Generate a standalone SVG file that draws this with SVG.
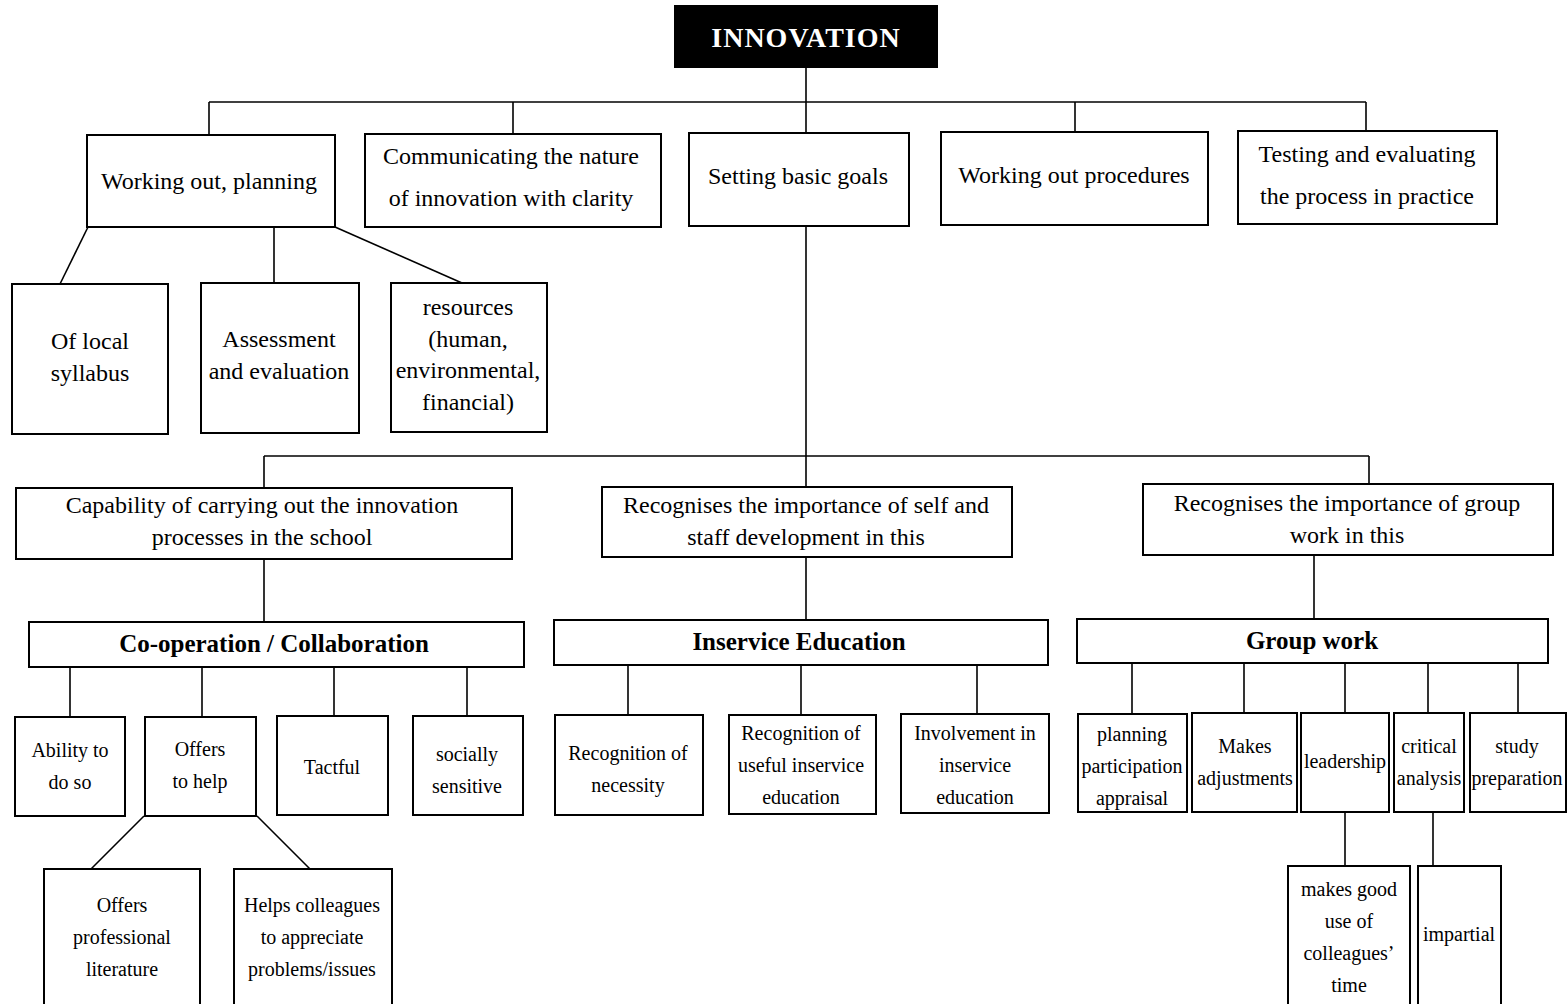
<svg xmlns="http://www.w3.org/2000/svg" width="1568" height="1004" viewBox="0 0 1568 1004">
<style>
.b{fill:#fff;stroke:#000;stroke-width:2}
.t{font-family:"Liberation Serif","Times New Roman",serif;font-size:24px;fill:#000;text-anchor:middle}
.s{font-family:"Liberation Serif","Times New Roman",serif;font-size:20px;fill:#000;text-anchor:middle}
.h{font-family:"Liberation Serif","Times New Roman",serif;font-size:25px;font-weight:bold;fill:#000;text-anchor:middle}
.c line{stroke:#000;stroke-width:1.6}
</style>
<rect width="1568" height="1004" fill="#fff"/>
<g class="c" id="connectors">
<line x1="806" y1="68" x2="806" y2="133"/>
<line x1="209" y1="102" x2="1366" y2="102"/>
<line x1="209" y1="102" x2="209" y2="135"/>
<line x1="513" y1="102" x2="513" y2="134"/>
<line x1="1075" y1="102" x2="1075" y2="132"/>
<line x1="1366" y1="102" x2="1366" y2="131"/>
<line x1="88" y1="227" x2="60" y2="284"/>
<line x1="274" y1="227" x2="274" y2="283"/>
<line x1="335" y1="227" x2="462" y2="283"/>
<line x1="806" y1="226" x2="806" y2="456"/>
<line x1="264" y1="456" x2="1369" y2="456"/>
<line x1="264" y1="456" x2="264" y2="488"/>
<line x1="806" y1="456" x2="806" y2="487"/>
<line x1="1369" y1="456" x2="1369" y2="484"/>
<line x1="264" y1="559" x2="264" y2="622"/>
<line x1="806" y1="557" x2="806" y2="620"/>
<line x1="1314" y1="555" x2="1314" y2="619"/>
<line x1="70" y1="667" x2="70" y2="717"/>
<line x1="202" y1="667" x2="202" y2="717"/>
<line x1="334" y1="667" x2="334" y2="716"/>
<line x1="467" y1="667" x2="467" y2="716"/>
<line x1="144" y1="816" x2="91" y2="869"/>
<line x1="257" y1="816" x2="310" y2="869"/>
<line x1="628" y1="665" x2="628" y2="715"/>
<line x1="801" y1="665" x2="801" y2="715"/>
<line x1="977" y1="665" x2="977" y2="714"/>
<line x1="1132" y1="663" x2="1132" y2="714"/>
<line x1="1244" y1="663" x2="1244" y2="713"/>
<line x1="1345" y1="663" x2="1345" y2="713"/>
<line x1="1428" y1="663" x2="1428" y2="713"/>
<line x1="1518" y1="663" x2="1518" y2="713"/>
<line x1="1345" y1="812" x2="1345" y2="866"/>
<line x1="1433" y1="812" x2="1433" y2="866"/>
</g>
<g id="innovation"><rect x="674" y="5" width="264" height="63" fill="#000"/><text x="806" y="47" font-family="'Liberation Serif','Times New Roman',serif" font-size="28" font-weight="bold" letter-spacing="1" fill="#fff" text-anchor="middle">INNOVATION</text></g>
<g id="working-out-planning"><rect class="b" x="87" y="135" width="248" height="92"/><text class="t" x="209" y="189">Working out, planning</text></g>
<g id="communicating"><rect class="b" x="365" y="134" width="296" height="93"/><text class="t" x="511" y="164">Communicating the nature</text><text class="t" x="511" y="206">of innovation with clarity</text></g>
<g id="setting-goals"><rect class="b" x="689" y="133" width="220" height="93"/><text class="t" x="798" y="184">Setting basic goals</text></g>
<g id="working-procedures"><rect class="b" x="941" y="132" width="267" height="93"/><text class="t" x="1074" y="183">Working out procedures</text></g>
<g id="testing"><rect class="b" x="1238" y="131" width="259" height="93"/><text class="t" x="1367" y="162">Testing and evaluating</text><text class="t" x="1367" y="204">the process in practice</text></g>
<g id="local-syllabus"><rect class="b" x="12" y="284" width="156" height="150"/><text class="t" x="90" y="349">Of local</text><text class="t" x="90" y="381">syllabus</text></g>
<g id="assessment"><rect class="b" x="201" y="283" width="158" height="150"/><text class="t" x="279" y="347">Assessment</text><text class="t" x="279" y="379">and evaluation</text></g>
<g id="resources"><rect class="b" x="391" y="283" width="156" height="149"/><text class="t" x="468" y="315">resources</text><text class="t" x="468" y="347">(human,</text><text class="t" x="468" y="378">environmental,</text><text class="t" x="468" y="410">financial)</text></g>
<g id="capability"><rect class="b" x="16" y="488" width="496" height="71"/><text class="t" x="262" y="513">Capability of carrying out the innovation</text><text class="t" x="262" y="545">processes in the school</text></g>
<g id="self-staff"><rect class="b" x="602" y="487" width="410" height="70"/><text class="t" x="806" y="513">Recognises the importance of self and</text><text class="t" x="806" y="545">staff development in this</text></g>
<g id="group-importance"><rect class="b" x="1143" y="484" width="410" height="71"/><text class="t" x="1347" y="511">Recognises the importance of group</text><text class="t" x="1347" y="543">work in this</text></g>
<g id="cooperation"><rect class="b" x="29" y="622" width="495" height="45"/><text class="h" x="274" y="652">Co-operation / Collaboration</text></g>
<g id="inservice"><rect class="b" x="554" y="620" width="494" height="45"/><text class="h" x="799" y="650">Inservice Education</text></g>
<g id="group-work"><rect class="b" x="1077" y="619" width="471" height="44"/><text class="h" x="1312" y="649">Group work</text></g>
<g id="ability"><rect class="b" x="15" y="717" width="110" height="99"/><text class="s" x="70" y="757">Ability to</text><text class="s" x="70" y="789">do so</text></g>
<g id="offers-help"><rect class="b" x="145" y="717" width="111" height="99"/><text class="s" x="200" y="756">Offers</text><text class="s" x="200" y="788">to help</text></g>
<g id="tactful"><rect class="b" x="277" y="716" width="111" height="99"/><text class="s" x="332" y="774">Tactful</text></g>
<g id="socially"><rect class="b" x="413" y="716" width="110" height="99"/><text class="s" x="467" y="761">socially</text><text class="s" x="467" y="793">sensitive</text></g>
<g id="professional-literature"><rect class="b" x="44" y="869" width="156" height="140"/><text class="s" x="122" y="912">Offers</text><text class="s" x="122" y="944">professional</text><text class="s" x="122" y="976">literature</text></g>
<g id="helps-colleagues"><rect class="b" x="234" y="869" width="158" height="140"/><text class="s" x="312" y="912">Helps colleagues</text><text class="s" x="312" y="944">to appreciate</text><text class="s" x="312" y="976">problems/issues</text></g>
<g id="recognition-necessity"><rect class="b" x="555" y="715" width="148" height="100"/><text class="s" x="628" y="760">Recognition of</text><text class="s" x="628" y="792">necessity</text></g>
<g id="recognition-useful"><rect class="b" x="729" y="715" width="147" height="99"/><text class="s" x="801" y="740">Recognition of</text><text class="s" x="801" y="772">useful inservice</text><text class="s" x="801" y="804">education</text></g>
<g id="involvement"><rect class="b" x="901" y="714" width="148" height="99"/><text class="s" x="975" y="740">Involvement in</text><text class="s" x="975" y="772">inservice</text><text class="s" x="975" y="804">education</text></g>
<g id="planning"><rect class="b" x="1078" y="714" width="109" height="98"/><text class="s" x="1132" y="741">planning</text><text class="s" x="1132" y="773">participation</text><text class="s" x="1132" y="805">appraisal</text></g>
<g id="adjustments"><rect class="b" x="1192" y="713" width="105" height="99"/><text class="s" x="1245" y="753">Makes</text><text class="s" x="1245" y="785">adjustments</text></g>
<g id="leadership"><rect class="b" x="1301" y="713" width="88" height="99"/><text class="s" x="1345" y="768">leadership</text></g>
<g id="critical"><rect class="b" x="1394" y="713" width="70" height="99"/><text class="s" x="1429" y="753">critical</text><text class="s" x="1429" y="785">analysis</text></g>
<g id="study"><rect class="b" x="1470" y="713" width="96" height="99"/><text class="s" x="1517" y="753">study</text><text class="s" x="1517" y="785">preparation</text></g>
<g id="good-use"><rect class="b" x="1288" y="866" width="122" height="143"/><text class="s" x="1349" y="896">makes good</text><text class="s" x="1349" y="928">use of</text><text class="s" x="1349" y="960">colleagues’</text><text class="s" x="1349" y="992">time</text></g>
<g id="impartial"><rect class="b" x="1418" y="866" width="83" height="143"/><text class="s" x="1459" y="941">impartial</text></g>
</svg>
